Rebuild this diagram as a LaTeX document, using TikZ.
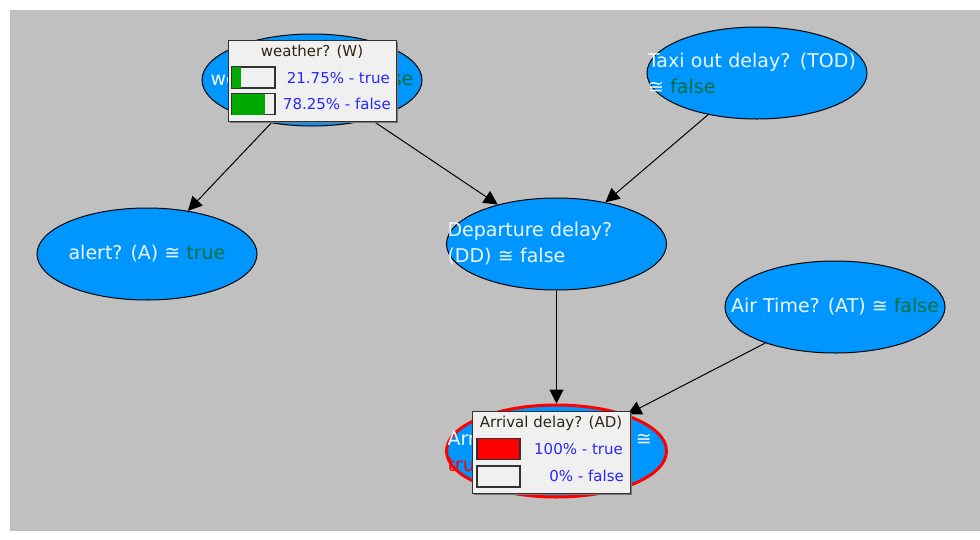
\documentclass[tikz,border=0pt]{standalone}
\usepackage{fontspec}
\setmainfont{DejaVu Sans}
\usetikzlibrary{shapes.geometric,arrows.meta,shadows}

\definecolor{canvas}{RGB}{192,192,192}
\definecolor{evblue}{RGB}{0,150,255}
\definecolor{evtext}{RGB}{238,246,255}
\definecolor{stategreen}{RGB}{0,112,56}
\definecolor{boxfill}{RGB}{240,240,240}
\definecolor{boxline}{RGB}{50,50,50}
\definecolor{boxshadow}{RGB}{120,120,120}
\definecolor{pctblue}{RGB}{40,40,250}
\definecolor{bargreen}{RGB}{0,168,0}
\definecolor{titletext}{RGB}{45,38,20}

\begin{document}
\begin{tikzpicture}[x=1pt,y=-1pt,
  evnode/.style={ellipse, draw=black, line width=1pt, fill=evblue,
    minimum width=220pt, minimum height=92pt, inner sep=0pt},
  evlabel/.style={inner sep=0pt, text=evtext,
    font=\fontsize{19}{26}\selectfont},
  wrapped/.style={text width=218pt, align=left},
  oneline/.style={align=center},
  evidence/.style={draw=red, line width=3pt},
  link/.style={draw=black, line width=1pt,
    -{Triangle[length=14pt,width=14pt]}},
  probbox/.style={rectangle, draw=boxline, fill=boxfill, line width=1pt,
    inner sep=0pt,
    drop shadow={shadow xshift=1.6pt, shadow yshift=-1.6pt,
      fill=boxshadow, opacity=1}},
  boxtitle/.style={inner sep=0pt, text=titletext, font=\fontsize{15}{18}\selectfont},
  pct/.style={inner sep=0pt, anchor=east, text=pctblue, font=\fontsize{15}{18}\selectfont},
  bar/.style={rectangle, draw=boxline, fill=boxfill, line width=1.2pt,
    minimum width=43pt, minimum height=21pt, inner sep=0pt}
]
% page with white margin and grey canvas
\useasboundingbox (0,0) rectangle (980,539);
\fill[white] (0,0) rectangle (980,539);
\fill[canvas] (10,10) rectangle (980,531);

% network nodes
\node[evnode] (w)   at (312,80)  {};
\node[evnode] (tod) at (757,73)  {};
\node[evnode] (a)   at (147,254) {};
\node[evnode] (dd)  at (556.5,244) {};
\node[evnode] (at)  at (835,307) {};
\node[evnode, evidence] (ad) at (556.5,451) {};

% node captions
\node[evlabel, oneline] (w-label) at (w) {weather? (W) ≅ \textcolor{stategreen}{false}};
\node[evlabel, wrapped] (tod-label) at (tod) {Taxi out delay? (TOD)\\≅ \textcolor{stategreen}{false}};
\node[evlabel, oneline] (a-label) at (a) {alert? (A) ≅ \textcolor{stategreen}{true}};
\node[evlabel, wrapped] (dd-label) at (dd) {Departure delay?\\(DD) ≅ false};
\node[evlabel, oneline] (at-label) at (at) {Air Time? (AT) ≅ \textcolor{stategreen}{false}};
\node[evlabel, wrapped] (ad-label) at (ad) {Arrival delay? (AD) ≅\\\textcolor{red}{true}};

% dependencies
\draw[link] (w) -- (a);
\draw[link] (w) -- (dd);
\draw[link] (tod) -- (dd);
\draw[link] (dd) -- (ad);
\draw[link] (at) -- (ad);

% probability box of weather
\node[probbox, minimum width=168pt, minimum height=81pt] (wbox) at (312,80.5) {};
\node[boxtitle] (wbox-title) at (312,52) {weather? (W)};
\node[bar] (wbar1) at (253.5,77.5) {};
\fill[bargreen] ([shift={(0.6pt,0.6pt)}]wbar1.south west) rectangle ([shift={(9.4pt,-0.6pt)}]wbar1.north west);
\node[bar] (wbar2) at (253.5,104) {};
\fill[bargreen] ([shift={(0.6pt,0.6pt)}]wbar2.south west) rectangle ([shift={(33.2pt,-0.6pt)}]wbar2.north west);
\node[pct] (wp1) at (390,78) {21.75\% - true};
\node[pct] (wp2) at (391,104) {78.25\% - false};

% probability box of arrival delay
\node[probbox, minimum width=158pt, minimum height=82pt] (adbox) at (551,452) {};
\node[boxtitle] (adbox-title) at (551,423.5) {Arrival delay? (AD)};
\node[bar, fill=red] (adbar1) at (498.5,449) {};
\node[bar] (adbar2) at (498.5,476.5) {};
\node[pct] (adp1) at (623,449) {100\% - true};
\node[pct] (adp2) at (624,476) {0\% - false};
\end{tikzpicture}
\end{document}
